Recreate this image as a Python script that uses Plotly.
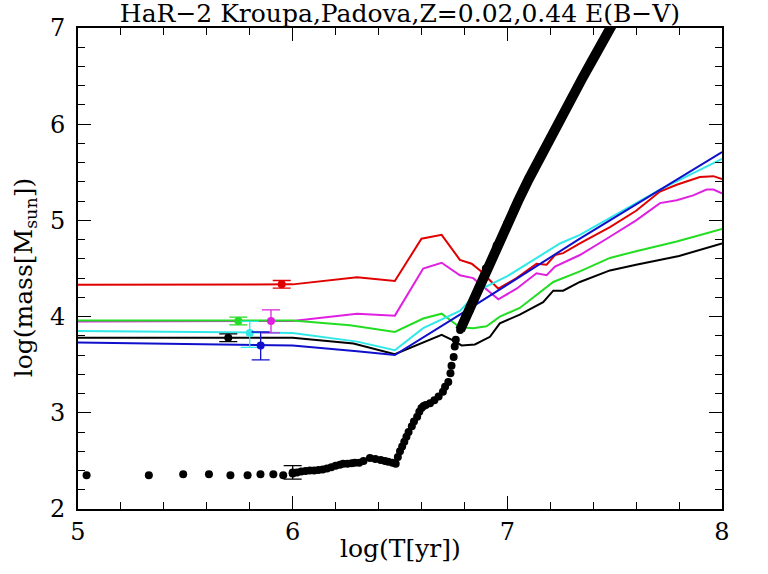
import plotly.graph_objects as go

# model curves, log(T) vs log(mass)
red_x = [5.0, 6.0, 6.30, 6.476, 6.60, 6.694, 6.779, 6.834, 6.873, 6.958, 7.043, 7.136, 7.183, 7.222, 7.26, 7.338, 7.478, 7.60, 7.711, 7.789, 7.897, 7.96, 8.0]
red_y = [4.33, 4.335, 4.41, 4.37, 4.81, 4.85, 4.59, 4.55, 4.48, 4.29, 4.40, 4.55, 4.54, 4.64, 4.66, 4.76, 4.93, 5.10, 5.30, 5.37, 5.45, 5.46, 5.43]

mag_x = [5.0, 6.0, 6.30, 6.476, 6.608, 6.694, 6.779, 6.841, 6.958, 7.043, 7.136, 7.183, 7.222, 7.338, 7.478, 7.60, 7.711, 7.789, 7.866, 7.928, 7.96, 8.0]
mag_y = [3.95, 3.955, 4.03, 4.01, 4.50, 4.56, 4.43, 4.40, 4.18, 4.29, 4.45, 4.43, 4.52, 4.64, 4.83, 5.00, 5.18, 5.21, 5.26, 5.32, 5.32, 5.28]

grn_x = [5.0, 6.0, 6.267, 6.476, 6.608, 6.694, 6.779, 6.841, 6.903, 6.965, 7.058, 7.167, 7.214, 7.338, 7.478, 7.60, 7.711, 7.789, 8.0]
grn_y = [3.96, 3.96, 3.91, 3.84, 3.98, 4.03, 3.89, 3.88, 3.90, 4.00, 4.09, 4.28, 4.36, 4.47, 4.61, 4.68, 4.74, 4.78, 4.91]

blk_x = [5.0, 6.0, 6.283, 6.476, 6.694, 6.74, 6.787, 6.849, 6.919, 6.965, 7.058, 7.167, 7.214, 7.26, 7.338, 7.478, 7.60, 7.711, 7.80, 8.0]
blk_y = [3.78, 3.78, 3.72, 3.61, 3.81, 3.76, 3.70, 3.71, 3.79, 3.93, 4.02, 4.15, 4.27, 4.27, 4.36, 4.48, 4.54, 4.59, 4.63, 4.76]

cyn_x = [5.0, 6.0, 6.30, 6.476, 6.608, 6.779, 6.873, 7.0, 7.245, 7.338, 7.711, 8.0]
cyn_y = [3.85, 3.83, 3.74, 3.65, 3.88, 4.06, 4.28, 4.42, 4.76, 4.85, 5.32, 5.64]

blu_x = [5.0, 6.0, 6.30, 6.476, 6.779, 7.338, 8.0]
blu_y = [3.73, 3.70, 3.64, 3.60, 4.02, 4.81, 5.71]

# observed points with error bars (red, green, magenta, cyan, black, blue)
obs_x = [5.949, 5.747, 5.899, 5.80, 5.70, 5.851]
obs_y = [4.335, 3.955, 3.955, 3.83, 3.78, 3.70]
obs_up = [0.04, 0.04, 0.115, 0.12, 0.04, 0.14]
obs_dn = [0.04, 0.04, 0.125, 0.15, 0.04, 0.15]
obs_col = ["#e00000", "#22dd22", "#e020e0", "#30e8e8", "#000000", "#1010cc"]

# black dotted track
dot_x = [5.04, 5.33, 5.49, 5.61, 5.71, 5.79, 5.85, 5.91, 5.956, 6.0, 6.02, 6.04, 6.06, 6.08, 6.10, 6.12, 6.14,
         6.16, 6.18, 6.20, 6.22, 6.235, 6.255, 6.275, 6.29, 6.31, 6.33, 6.36, 6.385, 6.41, 6.43, 6.445, 6.465,
         6.48, 6.49, 6.50, 6.51, 6.52, 6.53, 6.54, 6.555, 6.565, 6.58, 6.59, 6.60, 6.61, 6.62, 6.64, 6.66,
         6.68, 6.70, 6.71, 6.725, 6.735, 6.74, 6.75, 6.755, 6.76, 6.78, 6.80, 6.826, 6.85, 6.90, 6.95, 7.0,
         7.05, 7.10, 7.15, 7.20, 7.25, 7.30, 7.35, 7.40, 7.45, 7.50]
dot_y = [2.35, 2.35, 2.36, 2.36, 2.35, 2.35, 2.36, 2.36, 2.35, 2.37, 2.38, 2.39, 2.395, 2.40, 2.40, 2.405, 2.41,
         2.42, 2.435, 2.45, 2.46, 2.47, 2.47, 2.475, 2.48, 2.48, 2.50, 2.53, 2.52, 2.51, 2.50, 2.49, 2.48,
         2.47, 2.54, 2.60, 2.65, 2.70, 2.75, 2.80, 2.86, 2.91, 2.96, 3.01, 3.05, 3.07, 3.08, 3.10, 3.13,
         3.17, 3.22, 3.27, 3.32, 3.41, 3.49, 3.58, 3.69, 3.76, 3.86, 3.96, 4.07, 4.22, 4.50, 4.74, 4.97,
         5.20, 5.43, 5.65, 5.86, 6.07, 6.28, 6.48, 6.68, 6.88, 7.08]

bot_x = [6.0]
bot_y = [2.38]
bot_err = [0.07]

title = "HaR\u22122 Kroupa,Padova,Z=0.02,0.44 E(B\u2212V)"
xlabel = "log(T[yr])"
ylabel = "log(mass[M<sub>sun</sub>])"
serif = "DejaVu Serif"

fig = go.Figure()

curves = [
    (red_x, red_y, "#e00000"),
    (mag_x, mag_y, "#e020e0"),
    (grn_x, grn_y, "#22dd22"),
    (blk_x, blk_y, "#000000"),
    (cyn_x, cyn_y, "#30e8e8"),
    (blu_x, blu_y, "#1010cc"),
]
for cx, cy, col in curves:
    fig.add_trace(go.Scatter(x=cx, y=cy, mode="lines", line=dict(color=col, width=2)))

# thick upper part of the dotted track
thick_x = [a for a in dot_x if a >= 6.78]
thick_y = [b for a, b in zip(dot_x, dot_y) if a >= 6.78]
fig.add_trace(go.Scatter(x=thick_x, y=thick_y, mode="lines", line=dict(color="black", width=10)))
fig.add_trace(go.Scatter(x=dot_x, y=dot_y, mode="markers",
                         marker=dict(color="black", size=8, line=dict(width=0))))

fig.add_trace(go.Scatter(x=bot_x, y=bot_y, mode="markers",
                         marker=dict(color="black", size=8),
                         error_y=dict(type="data", array=bot_err, color="black", thickness=1.3, width=9)))

for i in range(len(obs_x)):
    fig.add_trace(go.Scatter(
        x=[obs_x[i]], y=[obs_y[i]], mode="markers",
        marker=dict(color=obs_col[i], size=8),
        error_y=dict(type="data", symmetric=False, array=[obs_up[i]], arrayminus=[obs_dn[i]],
                     color=obs_col[i], thickness=1.3, width=9)))

axis_common = dict(
    showgrid=False, zeroline=False, showline=True, linecolor="black", linewidth=2,
    mirror="ticks", ticks="inside", ticklen=13, tickwidth=1.3, tickcolor="black",
    automargin=False,
    tickfont=dict(family=serif, size=24, color="black"),
    minor=dict(ticks="inside", ticklen=7, tickwidth=1.3, tickcolor="black", dtick=0.2, showgrid=False),
)

fig.update_xaxes(range=[5, 8], dtick=1, tick0=5, **axis_common)
fig.update_yaxes(range=[2, 7], dtick=1, tick0=2, ticklabelstandoff=6, **axis_common)

# axis titles placed by hand to sit as close to the tick labels as in the original
fig.add_annotation(text=xlabel, xref="paper", yref="paper", x=0.5, y=-0.083, yanchor="middle",
                   showarrow=False, font=dict(family=serif, size=25, color="black"))
fig.add_annotation(text=ylabel, xref="paper", yref="paper", x=-0.082, y=0.48, xanchor="center",
                   yanchor="middle", textangle=-90,
                   showarrow=False, font=dict(family=serif, size=25, color="black"))

fig.update_layout(
    width=768, height=574,
    margin=dict(l=78, r=46, t=28, b=65),
    paper_bgcolor="white", plot_bgcolor="white",
    showlegend=False,
    title=dict(text=title, x=0.5, xref="paper", y=0.977, yref="container", yanchor="middle",
               font=dict(family=serif, size=25, color="black")),
)

fig.write_html("out.html", config={"displayModeBar": False},
               post_script="document.body.style.margin='0';")
